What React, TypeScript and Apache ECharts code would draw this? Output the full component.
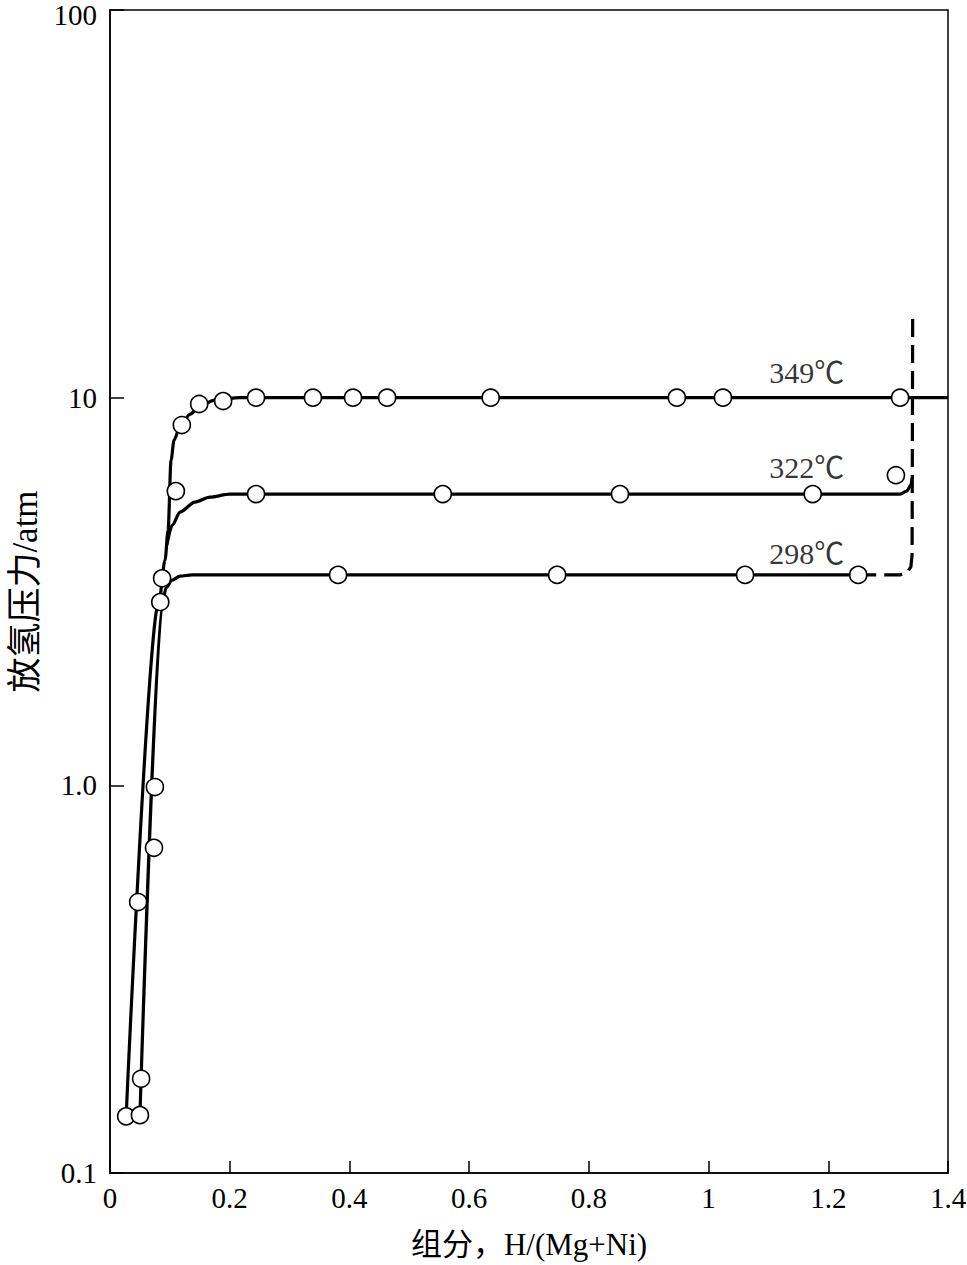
import React, { useEffect, useRef } from "react";
import * as echarts from "echarts";

// ---- data (x = H/(Mg+Ni), y = pressure atm) ----
const xTickValues = [0, 0.2, 0.4, 0.6, 0.8, 1.0, 1.2, 1.4];
const yTickLabels: Record<string, string> = { "0.1": "0.1", "1": "1.0", "10": "10", "100": "{top|100}" };

// Curves (drawn through the measured points)
const curve349: [number, number][] = [
  [0.027, 0.14], [0.082, 3.0], [0.092, 3.81], [0.097, 4.55], [0.102, 6.9], [0.107, 7.77],
  [0.117, 8.45], [0.134, 9.07], [0.15, 9.51], [0.175, 9.86], [0.217, 10.0], [1.4, 10.0],
];
const curve322: [number, number][] = [
  [0.095, 4.17], [0.104, 4.69], [0.117, 5.07], [0.142, 5.38], [0.167, 5.54], [0.2, 5.64],
  [1.32, 5.64], [1.331, 5.74], [1.338, 5.95], [1.34, 6.2],
];
const curve298: [number, number][] = [
  [0.05, 0.141], [0.0885, 3.0], [0.0935, 3.23], [0.1036, 3.385], [0.117, 3.465],
  [0.137, 3.49], [1.25, 3.49],
];
const curveDashed: [number, number][] = [
  [1.25, 3.49], [1.32, 3.49], [1.331, 3.53], [1.338, 3.66], [1.34, 3.93], [1.341, 16.5],
];

// Measured points (open circles)
const points349: [number, number][] = [
  [0.027, 0.14], [0.047, 0.5], [0.084, 2.97], [0.12, 8.5], [0.149, 9.63], [0.189, 9.8],
  [0.244, 10.0], [0.339, 10.0], [0.406, 10.0], [0.463, 10.0], [0.636, 10.0], [0.947, 10.0],
  [1.024, 10.0], [1.32, 10.0],
];
const points322: [number, number][] = [
  [0.11, 5.74], [0.244, 5.64], [0.556, 5.64], [0.852, 5.64], [1.174, 5.64], [1.313, 6.31],
];
const points298: [number, number][] = [
  [0.05, 0.141], [0.052, 0.175], [0.0735, 0.69], [0.075, 0.99], [0.087, 3.42],
  [0.381, 3.49], [0.747, 3.49], [1.061, 3.49], [1.25, 3.49],
];

const tempLabels = ["349℃", "322℃", "298℃"];
const tempLabelPos: [number, number][] = [[1.164, 11.58], [1.164, 6.62], [1.164, 3.97]];

const serif = "'Liberation Serif', 'Times New Roman', 'Noto Sans CJK SC', serif";

export default function App() {
  const ref = useRef<HTMLDivElement>(null);
  useEffect(() => {
    if (!ref.current) return;
    const chart = echarts.init(ref.current, undefined, { renderer: "svg" });
    const lineStyle = { color: "#000", width: 3.2 };
    const circleStyle = { color: "#fff", borderColor: "#000", borderWidth: 1.6, opacity: 1 };
    const scatter = (name: string, data: [number, number][]) => ({
      name,
      type: "scatter",
      data,
      symbol: "circle",
      symbolSize: 17,
      itemStyle: circleStyle,
      z: 5,
    });
    const line = (name: string, data: [number, number][], dashed = false) => ({
      name,
      type: "line",
      data,
      showSymbol: false,
      symbol: "none",
      smooth: dashed ? false : 0.3,
      smoothMonotone: "x",
      lineStyle: { ...lineStyle, type: dashed ? [18, 8] : "solid" },
      z: 3,
    });
    chart.setOption({
      animation: false,
      backgroundColor: "#fff",
      grid: {
        left: 110,
        right: 19,
        top: 10,
        bottom: 92,
        outerBoundsMode: "none",
        containLabel: false,
        show: true,
        borderColor: "#000",
        borderWidth: 1.5,
        backgroundColor: "transparent",
      },
      xAxis: {
        type: "value",
        min: 0,
        max: 1.4,
        interval: 0.2,
        name: "组分，H/(Mg+Ni)",
        nameLocation: "middle",
        nameGap: 56,
        nameTextStyle: { fontFamily: serif, fontSize: 31, color: "#000" },
        axisLine: { show: true, lineStyle: { color: "#000", width: 1.5 } },
        axisTick: { show: true, inside: true, length: 12, lineStyle: { color: "#000", width: 1.5 } },
        axisLabel: {
          fontFamily: serif,
          fontSize: 29,
          color: "#000",
          margin: 10,
          formatter: (v: number) => {
            const t = xTickValues.find((x) => Math.abs(x - v) < 1e-9);
            return t === undefined ? "" : String(Number(t.toFixed(1)));
          },
        },
        splitLine: { show: false },
      },
      yAxis: {
        type: "log",
        logBase: 10,
        min: 0.1,
        max: 100,
        name: "放氢压力/atm",
        nameLocation: "middle",
        nameGap: 66,
        nameRotate: 90,
        nameTextStyle: { fontFamily: serif, fontSize: 35, color: "#000" },
        axisLine: { show: true, lineStyle: { color: "#000", width: 1.5 } },
        axisTick: { show: true, inside: true, length: 14, lineStyle: { color: "#000", width: 1.5 } },
        minorTick: { show: false },
        axisLabel: {
          fontFamily: serif,
          fontSize: 29,
          color: "#000",
          margin: 13,
          formatter: (v: number) => yTickLabels[String(Number(v.toPrecision(6)))] ?? String(v),
          rich: {
            top: { fontFamily: serif, fontSize: 29, color: "#000", padding: [10, 0, 0, 0] },
          },
        },
        splitLine: { show: false },
      },
      series: [
        line("349 curve", curve349),
        line("322 curve", curve322),
        line("298 curve", curve298),
        line("dashed", curveDashed, true),
        scatter("349 points", points349),
        scatter("322 points", points322),
        scatter("298 points", points298),
        {
          name: "labels",
          type: "scatter",
          symbolSize: 1,
          itemStyle: { color: "transparent" },
          data: tempLabelPos.map((p, i) => ({ value: p, name: tempLabels[i] })),
          label: {
            show: true,
            position: "inside",
            formatter: (p: any) => p.name,
            fontFamily: serif,
            fontSize: 30,
            color: "#000",
          },
          z: 6,
        },
      ],
    });
    return () => chart.dispose();
  }, []);
  return (
    <div
      ref={ref}
      style={{ position: "absolute", left: 0, top: 0, width: 967, height: 1265 }}
    />
  );
}
